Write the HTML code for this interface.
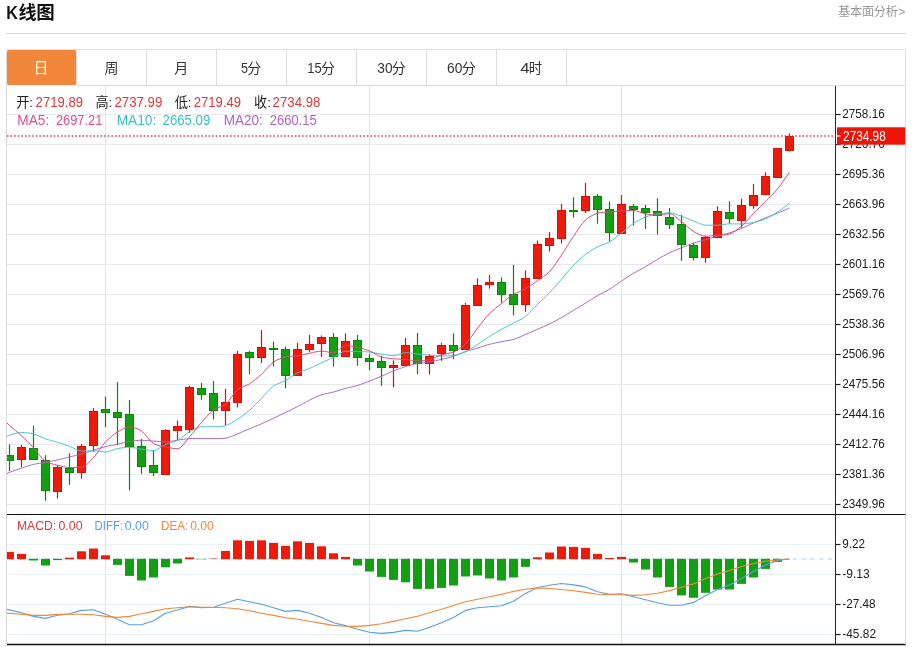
<!DOCTYPE html>
<html lang="zh-CN"><head><meta charset="utf-8"><title>K线图</title><style>
html,body{margin:0;padding:0;background:#fff}
body{width:912px;height:647px;overflow:hidden;position:relative;font-family:"Liberation Sans","Noto Sans CJK SC",sans-serif;color:#222}
.title{position:absolute;left:6px;top:0;margin:0;height:33px;width:300px;font-size:18px;font-weight:bold;line-height:26px;color:#111}
.title .k{position:absolute;left:0.3px;top:0.2px;display:inline-block;transform-origin:0 0;transform:scaleX(0.9);font-size:18.5px}
.cjk{position:absolute;overflow:visible}
.more{position:absolute;left:838.4px;top:4.4px;width:68px;height:16px;font-size:12px;color:#999;line-height:16px}
.hr{position:absolute;left:6px;top:33px;width:900px;height:1px;background:#d6d6d6}
.tabs{position:absolute;left:6px;top:49px;width:898px;height:35px;margin:0;padding:0;list-style:none;border:1px solid #dedede;background:#fff}
.tabs li{float:left;width:69px;height:35px;border-right:1px solid #dedede;text-align:center;font-size:14px;line-height:35px;color:#333}
.tabs li.on{background:#f2873c;color:#fffbe9;border-radius:2px;box-shadow:0 1px 0 #fffaf4}
.tabs li svg{display:block;font-family:"Liberation Sans","Noto Sans CJK SC",sans-serif;text-align:left}
.chart{position:absolute;left:0;top:0}
svg{will-change:transform}
</style></head>
<body>
<h2 class="title"><svg class="cjk" width="60" height="30" viewBox="0 0 60 30" style="left:0;top:0" fill="#111" role="img" aria-label="K线图"><title>K线图</title><text x="0.2" y="18.75" font-size="17.9" font-weight="bold" font-family="'Liberation Sans', sans-serif" textLength="11.6" lengthAdjust="spacingAndGlyphs">K</text><text x="12.6" y="19.1" font-size="18" font-weight="bold" font-family="'Liberation Sans', 'Noto Sans CJK SC', sans-serif">线</text><text x="30.2" y="19.0" font-size="18.5" font-weight="bold" font-family="'Liberation Sans', 'Noto Sans CJK SC', sans-serif">图</text></svg></h2>
<a class="more"><svg class="cjk" width="61" height="16" viewBox="0 0 61 16" fill="#999" role="img" aria-label="基本面分析" style="left:0;top:0"><title>基本面分析</title><text x="0" y="12.2" font-size="12.2" font-weight="normal" font-family="'Liberation Sans', 'Noto Sans CJK SC', sans-serif" textLength="60" lengthAdjust="spacing">基本面分析</text></svg><svg class="cjk" width="8" height="16" viewBox="0 0 8 16" style="left:59.8px;top:0" role="img" aria-label="&gt;"><title>&gt;</title><text x="0.2" y="12.3" font-size="12" fill="#9a9a9a" font-weight="normal" font-family="'Liberation Sans', sans-serif">&gt;</text></svg></a>
<div class="hr"></div>
<ul class="tabs"><li class="on"><svg width="69" height="35" viewBox="7 50 69 35" fill="#fffbe9" role="img" aria-label="日"><title>日</title><text x="33.4" y="73.2" font-size="15">日</text></svg></li><li><svg width="69" height="35" viewBox="77 50 69 35" fill="#333" role="img" aria-label="周"><title>周</title><text x="104.4" y="73.05" font-size="14">周</text></svg></li><li><svg width="69" height="35" viewBox="147 50 69 35" fill="#333" role="img" aria-label="月"><title>月</title><text x="174.34" y="73.07" font-size="14">月</text></svg></li><li><svg width="69" height="35" viewBox="217 50 69 35" fill="#333" role="img" aria-label="5分"><title>5分</title><text x="241.05" y="73.3" font-size="14.3" textLength="7.00" lengthAdjust="spacingAndGlyphs">5</text><text x="247.3" y="73.07" font-size="14">分</text></svg></li><li><svg width="69" height="35" viewBox="287 50 69 35" fill="#333" role="img" aria-label="15分"><title>15分</title><text x="307.30" y="73.3" font-size="14.3" textLength="14.50" lengthAdjust="spacingAndGlyphs">15</text><text x="321.05" y="73.07" font-size="14">分</text></svg></li><li><svg width="69" height="35" viewBox="357 50 69 35" fill="#333" role="img" aria-label="30分"><title>30分</title><text x="377.30" y="73.3" font-size="14.3" textLength="15.25" lengthAdjust="spacingAndGlyphs">30</text><text x="391.8" y="73.07" font-size="14">分</text></svg></li><li><svg width="69" height="35" viewBox="427 50 69 35" fill="#333" role="img" aria-label="60分"><title>60分</title><text x="447.00" y="73.3" font-size="14.3" textLength="15.30" lengthAdjust="spacingAndGlyphs">60</text><text x="461.75" y="73.07" font-size="14">分</text></svg></li><li><svg width="69" height="35" viewBox="497 50 69 35" fill="#333" role="img" aria-label="4时"><title>4时</title><text x="520.30" y="73.3" font-size="14.3" textLength="9.30" lengthAdjust="spacingAndGlyphs">4</text><text x="528.8" y="73.26" font-size="13.3">时</text></svg></li></ul>
<svg class="chart" width="912" height="647" viewBox="0 0 912 647" font-family="'Liberation Sans', 'Noto Sans CJK SC', sans-serif"><defs><clipPath id="clipc"><rect x="7" y="86" width="828.5" height="558"/></clipPath></defs><line x1="105.5" y1="86" x2="105.5" y2="644" stroke="#e2e3e8"/><line x1="369.5" y1="86" x2="369.5" y2="644" stroke="#e2e3e8"/><line x1="621.5" y1="86" x2="621.5" y2="644" stroke="#e2e3e8"/><line x1="7" y1="114.5" x2="835" y2="114.5" stroke="#e8e9ed"/><line x1="7" y1="144.5" x2="835" y2="144.5" stroke="#e8e9ed"/><line x1="7" y1="174.5" x2="835" y2="174.5" stroke="#e8e9ed"/><line x1="7" y1="204.5" x2="835" y2="204.5" stroke="#e8e9ed"/><line x1="7" y1="234.5" x2="835" y2="234.5" stroke="#e8e9ed"/><line x1="7" y1="264.5" x2="835" y2="264.5" stroke="#e8e9ed"/><line x1="7" y1="294.5" x2="835" y2="294.5" stroke="#e8e9ed"/><line x1="7" y1="324.5" x2="835" y2="324.5" stroke="#e8e9ed"/><line x1="7" y1="354.5" x2="835" y2="354.5" stroke="#e8e9ed"/><line x1="7" y1="384.5" x2="835" y2="384.5" stroke="#e8e9ed"/><line x1="7" y1="414.5" x2="835" y2="414.5" stroke="#e8e9ed"/><line x1="7" y1="444.5" x2="835" y2="444.5" stroke="#e8e9ed"/><line x1="7" y1="474.5" x2="835" y2="474.5" stroke="#e8e9ed"/><line x1="7" y1="504.5" x2="835" y2="504.5" stroke="#e8e9ed"/><line x1="7" y1="544.5" x2="835" y2="544.5" stroke="#e7f1f7"/><line x1="7" y1="574.5" x2="835" y2="574.5" stroke="#e7f1f7"/><line x1="7" y1="604.5" x2="835" y2="604.5" stroke="#e7f1f7"/><line x1="7" y1="634.5" x2="835" y2="634.5" stroke="#e7f1f7"/><line x1="6.5" y1="86" x2="6.5" y2="644" stroke="#d6d6d8"/><line x1="905.5" y1="86" x2="905.5" y2="647" stroke="#dcdcdc"/><g clip-path="url(#clipc)"><line x1="7" y1="559" x2="832" y2="559" stroke="#acd5ee" stroke-width="1.2" stroke-dasharray="4.4 4.4" stroke-dashoffset="-2.4"/><rect x="5.0" y="551.9" width="9" height="7.3" fill="#ee1a0a"/><rect x="17.0" y="553.9" width="9" height="5.3" fill="#ee1a0a"/><rect x="29.0" y="558.8" width="9" height="1.7" fill="#12a012"/><rect x="41.0" y="558.8" width="9" height="6.7" fill="#12a012"/><rect x="53.0" y="558.8" width="9" height="1.3" fill="#12a012"/><rect x="65.0" y="557.7" width="9" height="1.5" fill="#ee1a0a"/><rect x="77.0" y="551.3" width="9" height="7.9" fill="#ee1a0a"/><rect x="89.0" y="548.5" width="9" height="10.7" fill="#ee1a0a"/><rect x="101.0" y="555.3" width="9" height="3.9" fill="#ee1a0a"/><rect x="113.0" y="558.8" width="9" height="6.1" fill="#12a012"/><rect x="125.0" y="558.8" width="9" height="17.1" fill="#12a012"/><rect x="137.0" y="558.8" width="9" height="21.7" fill="#12a012"/><rect x="149.0" y="558.8" width="9" height="18.7" fill="#12a012"/><rect x="161.0" y="558.8" width="9" height="8.5" fill="#12a012"/><rect x="173.0" y="558.8" width="9" height="4.7" fill="#12a012"/><rect x="185.0" y="557.4" width="9" height="1.8" fill="#ee1a0a"/><rect x="197.0" y="558.6" width="9" height="1" fill="#12a012" opacity="0.40"/><rect x="209.0" y="558" width="9" height="1" fill="#ee1a0a" opacity="0.40"/><rect x="221.0" y="550.9" width="9" height="8.3" fill="#ee1a0a"/><rect x="233.0" y="540.3" width="9" height="18.9" fill="#ee1a0a"/><rect x="245.0" y="540.9" width="9" height="18.3" fill="#ee1a0a"/><rect x="257.0" y="540.3" width="9" height="18.9" fill="#ee1a0a"/><rect x="269.0" y="542.9" width="9" height="16.3" fill="#ee1a0a"/><rect x="281.0" y="545.9" width="9" height="13.3" fill="#ee1a0a"/><rect x="293.0" y="541.3" width="9" height="17.9" fill="#ee1a0a"/><rect x="305.0" y="542.9" width="9" height="16.3" fill="#ee1a0a"/><rect x="317.0" y="546.3" width="9" height="12.9" fill="#ee1a0a"/><rect x="329.0" y="553.3" width="9" height="5.9" fill="#ee1a0a"/><rect x="341.0" y="556.9" width="9" height="2.3" fill="#ee1a0a"/><rect x="353.0" y="558.8" width="9" height="6.7" fill="#12a012"/><rect x="365.0" y="558.8" width="9" height="12.7" fill="#12a012"/><rect x="377.0" y="558.8" width="9" height="18.1" fill="#12a012"/><rect x="389.0" y="558.8" width="9" height="21.1" fill="#12a012"/><rect x="401.0" y="558.8" width="9" height="23.5" fill="#12a012"/><rect x="413.0" y="558.8" width="9" height="30.1" fill="#12a012"/><rect x="425.0" y="558.8" width="9" height="30.1" fill="#12a012"/><rect x="437.0" y="558.8" width="9" height="29.1" fill="#12a012"/><rect x="449.0" y="558.8" width="9" height="26.7" fill="#12a012"/><rect x="461.0" y="558.8" width="9" height="17.7" fill="#12a012"/><rect x="473.0" y="558.8" width="9" height="16.7" fill="#12a012"/><rect x="485.0" y="558.8" width="9" height="19.7" fill="#12a012"/><rect x="497.0" y="558.8" width="9" height="21.7" fill="#12a012"/><rect x="509.0" y="558.8" width="9" height="18.7" fill="#12a012"/><rect x="521.0" y="558.8" width="9" height="8.1" fill="#12a012"/><rect x="533.0" y="557.3" width="9" height="1.9" fill="#ee1a0a"/><rect x="545.0" y="552.5" width="9" height="6.7" fill="#ee1a0a"/><rect x="557.0" y="546.5" width="9" height="12.7" fill="#ee1a0a"/><rect x="569.0" y="546.9" width="9" height="12.3" fill="#ee1a0a"/><rect x="581.0" y="547.9" width="9" height="11.3" fill="#ee1a0a"/><rect x="593.0" y="553.9" width="9" height="5.3" fill="#ee1a0a"/><rect x="605.0" y="558.0" width="9" height="1.2" fill="#ee1a0a"/><rect x="617.0" y="556.9" width="9" height="2.3" fill="#ee1a0a"/><rect x="629.0" y="558.8" width="9" height="3.7" fill="#12a012"/><rect x="641.0" y="558.8" width="9" height="10.7" fill="#12a012"/><rect x="653.0" y="558.8" width="9" height="18.7" fill="#12a012"/><rect x="665.0" y="558.8" width="9" height="28.1" fill="#12a012"/><rect x="677.0" y="558.8" width="9" height="36.6" fill="#12a012"/><rect x="689.0" y="558.8" width="9" height="39.0" fill="#12a012"/><rect x="701.0" y="558.8" width="9" height="34.0" fill="#12a012"/><rect x="713.0" y="558.8" width="9" height="30.7" fill="#12a012"/><rect x="725.0" y="558.8" width="9" height="30.7" fill="#12a012"/><rect x="737.0" y="558.8" width="9" height="25.1" fill="#12a012"/><rect x="749.0" y="558.8" width="9" height="18.7" fill="#12a012"/><rect x="761.0" y="558.8" width="9" height="10.1" fill="#12a012"/><rect x="773.0" y="558.8" width="9" height="3.1" fill="#12a012"/><line x1="9.5" y1="444.5" x2="9.5" y2="471.2" stroke="#0b860b" stroke-width="1.2"/><rect x="5.5" y="455.5" width="8" height="5.0" fill="#12a012" stroke="#0b860b"/><line x1="21.5" y1="444.9" x2="21.5" y2="467.2" stroke="#d01208" stroke-width="1.2"/><rect x="17.5" y="447.5" width="8" height="12.0" fill="#ee1a0a" stroke="#d01208"/><line x1="33.5" y1="425.7" x2="33.5" y2="459.6" stroke="#0b860b" stroke-width="1.2"/><rect x="29.5" y="448.5" width="8" height="11.0" fill="#12a012" stroke="#0b860b"/><line x1="45.5" y1="455.2" x2="45.5" y2="500.7" stroke="#0b860b" stroke-width="1.2"/><rect x="41.5" y="460.5" width="8" height="30.0" fill="#12a012" stroke="#0b860b"/><line x1="57.5" y1="465.2" x2="57.5" y2="498.4" stroke="#d01208" stroke-width="1.2"/><rect x="53.5" y="467.5" width="8" height="24.0" fill="#ee1a0a" stroke="#d01208"/><line x1="69.5" y1="453.2" x2="69.5" y2="484.8" stroke="#0b860b" stroke-width="1.2"/><rect x="65.5" y="468.5" width="8" height="4.0" fill="#12a012" stroke="#0b860b"/><line x1="81.5" y1="443.9" x2="81.5" y2="478.8" stroke="#d01208" stroke-width="1.2"/><rect x="77.5" y="446.5" width="8" height="26.0" fill="#ee1a0a" stroke="#d01208"/><line x1="93.5" y1="407.9" x2="93.5" y2="451.8" stroke="#d01208" stroke-width="1.2"/><rect x="89.5" y="411.5" width="8" height="34.0" fill="#ee1a0a" stroke="#d01208"/><line x1="105.5" y1="396.6" x2="105.5" y2="427.3" stroke="#0b860b" stroke-width="1.2"/><rect x="101.5" y="409.5" width="8" height="3.0" fill="#12a012" stroke="#0b860b"/><line x1="117.5" y1="382.0" x2="117.5" y2="445.3" stroke="#0b860b" stroke-width="1.2"/><rect x="113.5" y="412.5" width="8" height="5.0" fill="#12a012" stroke="#0b860b"/><line x1="129.5" y1="400.0" x2="129.5" y2="490.4" stroke="#0b860b" stroke-width="1.2"/><rect x="125.5" y="414.5" width="8" height="32.0" fill="#12a012" stroke="#0b860b"/><line x1="141.5" y1="438.9" x2="141.5" y2="473.8" stroke="#0b860b" stroke-width="1.2"/><rect x="137.5" y="446.5" width="8" height="20.0" fill="#12a012" stroke="#0b860b"/><line x1="153.5" y1="449.9" x2="153.5" y2="476.2" stroke="#0b860b" stroke-width="1.2"/><rect x="149.5" y="465.5" width="8" height="7.0" fill="#12a012" stroke="#0b860b"/><line x1="165.5" y1="429.3" x2="165.5" y2="474.8" stroke="#d01208" stroke-width="1.2"/><rect x="161.5" y="430.5" width="8" height="44.0" fill="#ee1a0a" stroke="#d01208"/><line x1="177.5" y1="420.5" x2="177.5" y2="439.9" stroke="#d01208" stroke-width="1.2"/><rect x="173.5" y="426.5" width="8" height="4.0" fill="#ee1a0a" stroke="#d01208"/><line x1="189.5" y1="385.8" x2="189.5" y2="432.8" stroke="#d01208" stroke-width="1.2"/><rect x="185.5" y="387.5" width="8" height="42.0" fill="#ee1a0a" stroke="#d01208"/><line x1="201.5" y1="382.9" x2="201.5" y2="399.8" stroke="#0b860b" stroke-width="1.2"/><rect x="197.5" y="388.5" width="8" height="6.0" fill="#12a012" stroke="#0b860b"/><line x1="213.5" y1="380.9" x2="213.5" y2="419.4" stroke="#0b860b" stroke-width="1.2"/><rect x="209.5" y="393.5" width="8" height="17.0" fill="#12a012" stroke="#0b860b"/><line x1="225.5" y1="388.8" x2="225.5" y2="425.4" stroke="#d01208" stroke-width="1.2"/><rect x="221.5" y="402.5" width="8" height="8.0" fill="#ee1a0a" stroke="#d01208"/><line x1="237.5" y1="350.9" x2="237.5" y2="407.4" stroke="#d01208" stroke-width="1.2"/><rect x="233.5" y="354.5" width="8" height="48.0" fill="#ee1a0a" stroke="#d01208"/><line x1="249.5" y1="350.9" x2="249.5" y2="374.3" stroke="#0b860b" stroke-width="1.2"/><rect x="245.5" y="352.5" width="8" height="5.0" fill="#12a012" stroke="#0b860b"/><line x1="261.5" y1="330.0" x2="261.5" y2="362.9" stroke="#d01208" stroke-width="1.2"/><rect x="257.5" y="347.5" width="8" height="10.0" fill="#ee1a0a" stroke="#d01208"/><line x1="273.5" y1="341.5" x2="273.5" y2="366.5" stroke="#0b860b" stroke-width="1.2"/><rect x="269.5" y="348.5" width="8" height="1.0" fill="#12a012" stroke="#0b860b"/><line x1="285.5" y1="346.5" x2="285.5" y2="388.2" stroke="#0b860b" stroke-width="1.2"/><rect x="281.5" y="349.5" width="8" height="26.0" fill="#12a012" stroke="#0b860b"/><line x1="297.5" y1="342.9" x2="297.5" y2="375.5" stroke="#d01208" stroke-width="1.2"/><rect x="293.5" y="349.5" width="8" height="26.0" fill="#ee1a0a" stroke="#d01208"/><line x1="309.5" y1="335.0" x2="309.5" y2="351.9" stroke="#d01208" stroke-width="1.2"/><rect x="305.5" y="344.5" width="8" height="5.0" fill="#ee1a0a" stroke="#d01208"/><line x1="321.5" y1="335.5" x2="321.5" y2="356.9" stroke="#d01208" stroke-width="1.2"/><rect x="317.5" y="337.5" width="8" height="6.0" fill="#ee1a0a" stroke="#d01208"/><line x1="333.5" y1="333.0" x2="333.5" y2="366.5" stroke="#0b860b" stroke-width="1.2"/><rect x="329.5" y="337.5" width="8" height="19.0" fill="#12a012" stroke="#0b860b"/><line x1="345.5" y1="333.5" x2="345.5" y2="357.2" stroke="#d01208" stroke-width="1.2"/><rect x="341.5" y="341.5" width="8" height="15.0" fill="#ee1a0a" stroke="#d01208"/><line x1="357.5" y1="334.9" x2="357.5" y2="365.8" stroke="#0b860b" stroke-width="1.2"/><rect x="353.5" y="340.5" width="8" height="17.0" fill="#12a012" stroke="#0b860b"/><line x1="369.5" y1="354.2" x2="369.5" y2="370.2" stroke="#0b860b" stroke-width="1.2"/><rect x="365.5" y="358.5" width="8" height="3.0" fill="#12a012" stroke="#0b860b"/><line x1="381.5" y1="355.8" x2="381.5" y2="385.8" stroke="#0b860b" stroke-width="1.2"/><rect x="377.5" y="361.5" width="8" height="6.0" fill="#12a012" stroke="#0b860b"/><line x1="393.5" y1="360.4" x2="393.5" y2="387.2" stroke="#d01208" stroke-width="1.2"/><rect x="389.5" y="365.5" width="8" height="2.0" fill="#ee1a0a" stroke="#d01208"/><line x1="405.5" y1="337.9" x2="405.5" y2="365.8" stroke="#d01208" stroke-width="1.2"/><rect x="401.5" y="345.5" width="8" height="20.0" fill="#ee1a0a" stroke="#d01208"/><line x1="417.5" y1="332.9" x2="417.5" y2="374.4" stroke="#0b860b" stroke-width="1.2"/><rect x="413.5" y="345.5" width="8" height="18.0" fill="#12a012" stroke="#0b860b"/><line x1="429.5" y1="354.2" x2="429.5" y2="374.4" stroke="#d01208" stroke-width="1.2"/><rect x="425.5" y="356.5" width="8" height="7.0" fill="#ee1a0a" stroke="#d01208"/><line x1="441.5" y1="342.8" x2="441.5" y2="360.8" stroke="#d01208" stroke-width="1.2"/><rect x="437.5" y="345.5" width="8" height="8.0" fill="#ee1a0a" stroke="#d01208"/><line x1="453.5" y1="333.3" x2="453.5" y2="359.2" stroke="#0b860b" stroke-width="1.2"/><rect x="449.5" y="345.5" width="8" height="5.0" fill="#12a012" stroke="#0b860b"/><line x1="465.5" y1="302.9" x2="465.5" y2="349.8" stroke="#d01208" stroke-width="1.2"/><rect x="461.5" y="305.5" width="8" height="44.0" fill="#ee1a0a" stroke="#d01208"/><line x1="477.5" y1="278.4" x2="477.5" y2="305.7" stroke="#d01208" stroke-width="1.2"/><rect x="473.5" y="285.5" width="8" height="20.0" fill="#ee1a0a" stroke="#d01208"/><line x1="489.5" y1="275.0" x2="489.5" y2="288.6" stroke="#d01208" stroke-width="1.2"/><rect x="485.5" y="282.5" width="8" height="2.0" fill="#ee1a0a" stroke="#d01208"/><line x1="501.5" y1="277.4" x2="501.5" y2="302.6" stroke="#0b860b" stroke-width="1.2"/><rect x="497.5" y="282.5" width="8" height="12.0" fill="#12a012" stroke="#0b860b"/><line x1="513.5" y1="264.9" x2="513.5" y2="315.4" stroke="#0b860b" stroke-width="1.2"/><rect x="509.5" y="294.5" width="8" height="10.0" fill="#12a012" stroke="#0b860b"/><line x1="525.5" y1="270.4" x2="525.5" y2="311.8" stroke="#d01208" stroke-width="1.2"/><rect x="521.5" y="278.5" width="8" height="26.0" fill="#ee1a0a" stroke="#d01208"/><line x1="537.5" y1="240.5" x2="537.5" y2="278.8" stroke="#d01208" stroke-width="1.2"/><rect x="533.5" y="244.5" width="8" height="34.0" fill="#ee1a0a" stroke="#d01208"/><line x1="549.5" y1="231.9" x2="549.5" y2="251.5" stroke="#d01208" stroke-width="1.2"/><rect x="545.5" y="238.5" width="8" height="7.0" fill="#ee1a0a" stroke="#d01208"/><line x1="561.5" y1="204.0" x2="561.5" y2="243.6" stroke="#d01208" stroke-width="1.2"/><rect x="557.5" y="210.5" width="8" height="28.0" fill="#ee1a0a" stroke="#d01208"/><line x1="573.5" y1="197.3" x2="573.5" y2="217.5" stroke="#0b860b" stroke-width="1.2"/><rect x="569.5" y="210.5" width="8" height="1.0" fill="#12a012" stroke="#0b860b"/><line x1="585.5" y1="183.0" x2="585.5" y2="212.9" stroke="#d01208" stroke-width="1.2"/><rect x="581.5" y="196.5" width="8" height="14.0" fill="#ee1a0a" stroke="#d01208"/><line x1="597.5" y1="193.9" x2="597.5" y2="223.7" stroke="#0b860b" stroke-width="1.2"/><rect x="593.5" y="196.5" width="8" height="13.0" fill="#12a012" stroke="#0b860b"/><line x1="609.5" y1="201.5" x2="609.5" y2="241.4" stroke="#0b860b" stroke-width="1.2"/><rect x="605.5" y="209.5" width="8" height="23.0" fill="#12a012" stroke="#0b860b"/><line x1="621.5" y1="194.9" x2="621.5" y2="233.7" stroke="#d01208" stroke-width="1.2"/><rect x="617.5" y="204.5" width="8" height="29.0" fill="#ee1a0a" stroke="#d01208"/><line x1="633.5" y1="204.3" x2="633.5" y2="225.4" stroke="#0b860b" stroke-width="1.2"/><rect x="629.5" y="206.5" width="8" height="3.0" fill="#12a012" stroke="#0b860b"/><line x1="645.5" y1="204.8" x2="645.5" y2="228.9" stroke="#0b860b" stroke-width="1.2"/><rect x="641.5" y="208.5" width="8" height="4.0" fill="#12a012" stroke="#0b860b"/><line x1="657.5" y1="198.3" x2="657.5" y2="234.4" stroke="#0b860b" stroke-width="1.2"/><rect x="653.5" y="211.5" width="8" height="4.0" fill="#12a012" stroke="#0b860b"/><line x1="669.5" y1="207.9" x2="669.5" y2="228.9" stroke="#0b860b" stroke-width="1.2"/><rect x="665.5" y="217.5" width="8" height="7.0" fill="#12a012" stroke="#0b860b"/><line x1="681.5" y1="214.9" x2="681.5" y2="260.8" stroke="#0b860b" stroke-width="1.2"/><rect x="677.5" y="224.5" width="8" height="20.0" fill="#12a012" stroke="#0b860b"/><line x1="693.5" y1="242.8" x2="693.5" y2="260.4" stroke="#0b860b" stroke-width="1.2"/><rect x="689.5" y="245.5" width="8" height="12.0" fill="#12a012" stroke="#0b860b"/><line x1="705.5" y1="235.8" x2="705.5" y2="262.8" stroke="#d01208" stroke-width="1.2"/><rect x="701.5" y="237.5" width="8" height="20.0" fill="#ee1a0a" stroke="#d01208"/><line x1="717.5" y1="206.2" x2="717.5" y2="237.8" stroke="#d01208" stroke-width="1.2"/><rect x="713.5" y="211.5" width="8" height="26.0" fill="#ee1a0a" stroke="#d01208"/><line x1="729.5" y1="201.2" x2="729.5" y2="223.4" stroke="#0b860b" stroke-width="1.2"/><rect x="725.5" y="212.5" width="8" height="6.0" fill="#12a012" stroke="#0b860b"/><line x1="741.5" y1="198.8" x2="741.5" y2="227.5" stroke="#d01208" stroke-width="1.2"/><rect x="737.5" y="205.5" width="8" height="15.0" fill="#ee1a0a" stroke="#d01208"/><line x1="753.5" y1="183.9" x2="753.5" y2="208.8" stroke="#d01208" stroke-width="1.2"/><rect x="749.5" y="195.5" width="8" height="10.0" fill="#ee1a0a" stroke="#d01208"/><line x1="765.5" y1="172.3" x2="765.5" y2="195.4" stroke="#d01208" stroke-width="1.2"/><rect x="761.5" y="176.5" width="8" height="18.0" fill="#ee1a0a" stroke="#d01208"/><line x1="777.5" y1="147.9" x2="777.5" y2="177.9" stroke="#d01208" stroke-width="1.2"/><rect x="773.5" y="148.5" width="8" height="29.0" fill="#ee1a0a" stroke="#d01208"/><line x1="789.5" y1="133.4" x2="789.5" y2="151.4" stroke="#d01208" stroke-width="1.2"/><rect x="785.5" y="136.5" width="8" height="14.0" fill="#ee1a0a" stroke="#d01208"/><path d="M-2.50 478.64C-2.50 478.64 6.04 473.92 9.50 472.40C12.76 470.97 18.11 469.23 21.50 468.10C24.83 466.99 30.09 465.22 33.50 464.40C36.81 463.60 42.15 462.93 45.50 462.30C48.87 461.67 54.15 460.64 57.50 459.90C60.87 459.15 66.15 457.84 69.50 457.00C72.87 456.16 78.16 454.85 81.50 453.90C84.88 452.94 90.14 451.22 93.50 450.20C96.86 449.18 102.10 447.45 105.50 446.60C108.82 445.77 114.15 444.93 117.50 444.20C120.87 443.47 126.10 441.95 129.50 441.40C132.82 440.86 138.14 440.30 141.50 440.30C144.86 440.30 150.14 440.89 153.50 441.10C156.86 441.31 162.15 441.80 165.50 441.80C168.87 441.80 174.14 440.65 177.50 440.20C180.86 439.75 186.13 438.80 189.50 438.60C192.85 438.40 198.14 438.40 201.50 438.40C204.86 438.40 210.14 438.60 213.50 438.60C216.86 438.60 222.24 438.60 225.50 438.20C228.96 437.78 234.18 435.25 237.50 433.94C240.90 432.61 246.13 430.21 249.50 428.78C252.85 427.36 258.17 425.24 261.50 423.78C264.89 422.30 270.15 419.84 273.50 418.27C276.87 416.69 282.15 414.16 285.50 412.53C288.87 410.89 294.17 408.34 297.50 406.62C300.89 404.88 306.08 401.87 309.50 400.18C312.80 398.55 318.03 395.93 321.50 394.75C324.75 393.65 330.17 392.93 333.50 392.05C336.89 391.16 342.12 389.37 345.50 388.44C348.84 387.52 354.19 386.45 357.50 385.45C360.91 384.42 366.17 382.47 369.50 381.19C372.89 379.90 378.16 377.70 381.50 376.26C384.88 374.81 390.09 372.23 393.50 370.86C396.81 369.52 402.09 367.62 405.50 366.57C408.81 365.55 414.10 364.11 417.50 363.44C420.82 362.79 426.16 362.43 429.50 361.87C432.88 361.29 438.16 360.13 441.50 359.37C444.88 358.59 450.22 357.44 453.50 356.37C456.94 355.24 462.08 352.68 465.50 351.50C468.80 350.36 474.15 349.06 477.50 348.06C480.87 347.04 486.10 345.20 489.50 344.30C492.82 343.42 498.13 342.35 501.50 341.67C504.85 340.98 510.24 340.39 513.50 339.42C516.96 338.39 522.16 335.93 525.50 334.51C528.88 333.08 534.14 330.72 537.50 329.25C540.86 327.76 546.20 325.55 549.50 323.94C552.92 322.29 558.20 319.48 561.50 317.61C564.92 315.67 570.14 312.37 573.50 310.33C576.86 308.31 582.15 305.14 585.50 303.10C588.87 301.04 594.08 297.67 597.50 295.70C600.80 293.79 606.25 291.23 609.50 289.25C612.97 287.13 618.11 283.31 621.50 281.06C624.83 278.84 630.07 275.34 633.50 273.29C636.79 271.32 642.19 268.62 645.50 266.69C648.91 264.70 654.09 261.28 657.50 259.30C660.81 257.38 666.06 254.41 669.50 252.76C672.78 251.18 678.12 249.11 681.50 247.76C684.84 246.42 690.09 244.27 693.50 243.13C696.81 242.03 702.15 240.75 705.50 239.76C708.87 238.76 714.12 237.01 717.50 236.04C720.84 235.08 726.19 233.94 729.50 232.89C732.91 231.81 738.19 229.80 741.50 228.43C744.91 227.02 750.12 224.43 753.50 222.94C756.84 221.48 762.13 219.26 765.50 217.88C768.85 216.51 774.16 214.48 777.50 213.10C780.88 211.71 789.50 208.01 789.50 208.01" fill="none" stroke="#a565bd" stroke-width="0.98" stroke-linejoin="round"/><path d="M-2.50 442.50C-2.50 442.50 5.93 436.79 9.50 435.30C12.65 433.99 18.11 432.50 21.50 432.50C24.83 432.50 30.26 433.05 33.50 433.90C36.98 434.81 42.08 437.60 45.50 438.80C48.80 439.95 54.16 441.26 57.50 442.30C60.88 443.36 66.17 445.09 69.50 446.30C72.89 447.53 78.02 451.00 81.50 451.00C84.74 451.00 90.15 450.80 93.50 450.80C96.87 450.80 102.20 452.00 105.50 452.00C108.92 452.00 114.09 449.27 117.50 448.59C120.81 447.93 126.15 447.20 129.50 447.20C132.87 447.20 138.13 448.68 141.50 449.15C144.85 449.61 150.32 450.53 153.50 450.53C157.04 450.53 162.04 445.96 165.50 444.50C168.76 443.12 174.39 442.03 177.50 440.39C181.11 438.49 185.94 433.88 189.50 431.85C192.66 430.06 198.00 426.75 201.50 426.74C204.72 426.73 210.15 426.74 213.50 426.73C216.87 426.72 222.34 426.64 225.50 425.66C229.06 424.56 234.30 421.34 237.50 419.30C241.02 417.05 246.35 413.10 249.50 410.36C253.07 407.25 258.17 401.79 261.50 398.41C264.89 394.97 269.69 388.85 273.50 386.02C276.41 383.85 282.27 382.33 285.50 380.56C288.99 378.65 293.95 374.64 297.50 372.86C300.67 371.27 306.21 369.89 309.50 368.51C312.93 367.07 318.12 364.33 321.50 362.76C324.84 361.21 330.18 358.97 333.50 357.37C336.90 355.73 341.94 351.21 345.50 351.21C348.66 351.21 354.14 351.49 357.50 351.60C360.86 351.71 366.16 351.68 369.50 352.03C372.88 352.39 378.13 353.61 381.50 354.12C384.85 354.63 390.18 355.69 393.50 355.69C396.90 355.69 402.10 352.58 405.50 352.58C408.82 352.58 414.14 353.66 417.50 354.03C420.86 354.40 426.14 354.95 429.50 355.22C432.86 355.49 438.14 355.97 441.50 355.97C444.86 355.97 450.21 355.93 453.50 355.36C456.93 354.76 462.33 353.22 465.50 351.79C469.05 350.18 474.18 346.61 477.50 344.51C480.90 342.35 486.10 338.74 489.50 336.57C492.82 334.45 498.06 331.13 501.50 329.21C504.78 327.37 510.18 324.92 513.50 323.15C516.90 321.34 522.49 318.79 525.50 316.45C529.21 313.56 534.13 307.80 537.50 304.46C540.85 301.14 546.25 296.08 549.50 292.67C552.97 289.02 558.17 283.03 561.50 279.24C564.89 275.37 569.93 269.00 573.50 265.31C576.65 262.05 581.91 257.16 585.50 254.41C588.63 252.01 593.99 248.71 597.50 246.89C600.71 245.22 606.38 243.74 609.50 241.92C613.10 239.82 618.17 235.47 621.50 232.91C624.89 230.30 629.95 225.79 633.50 223.43C636.67 221.32 641.97 218.30 645.50 216.93C648.69 215.70 654.11 214.72 657.50 214.14C660.83 213.57 666.20 212.84 669.50 212.84C672.92 212.84 678.19 215.15 681.50 216.27C684.91 217.42 690.12 219.71 693.50 220.96C696.84 222.19 702.05 225.03 705.50 225.11C708.77 225.19 714.15 225.19 717.50 225.19C720.87 225.19 726.13 223.86 729.50 223.86C732.85 223.86 738.15 223.95 741.50 223.95C744.87 223.95 750.20 223.16 753.50 222.46C756.92 221.73 762.30 220.22 765.50 218.83C769.02 217.31 774.28 214.16 777.50 212.06C781.00 209.78 789.50 203.17 789.50 203.17" fill="none" stroke="#45c3c9" stroke-width="0.98" stroke-linejoin="round"/><path d="M-2.50 412.54C-2.50 412.54 5.95 422.06 9.50 425.50C12.67 428.58 18.26 432.79 21.50 435.80C24.98 439.03 30.25 444.34 33.50 447.80C36.97 451.50 41.53 458.53 45.50 461.40C48.25 463.39 54.09 464.30 57.50 465.18C60.81 466.03 66.11 467.58 69.50 467.58C72.83 467.58 78.56 467.58 81.50 467.30C85.28 466.94 90.54 460.68 93.50 457.56C97.26 453.59 101.75 445.97 105.50 441.98C108.47 438.81 113.84 434.31 117.50 432.00C120.56 430.07 126.09 426.82 129.50 426.82C132.81 426.82 138.66 429.02 141.50 431.00C145.38 433.69 149.60 440.89 153.50 443.50C156.32 445.38 162.09 446.27 165.50 447.02C168.81 447.75 174.69 448.78 177.50 448.78C181.41 448.78 186.31 440.37 189.50 436.88C193.03 433.01 198.01 426.40 201.50 422.48C204.73 418.86 209.69 412.84 213.50 409.96C216.41 407.75 222.72 406.63 225.50 404.30C229.44 400.99 233.58 393.16 237.50 389.82C240.30 387.44 246.36 385.86 249.50 383.84C253.08 381.53 258.33 377.21 261.50 374.34C265.05 371.12 269.69 364.86 273.50 362.08C276.41 359.96 282.00 357.72 285.50 356.82C288.72 355.99 294.18 356.40 297.50 355.90C300.90 355.38 306.12 353.84 309.50 353.18C312.84 352.52 318.13 351.18 321.50 351.18C324.85 351.18 330.38 352.66 333.50 352.66C337.10 352.66 341.91 345.60 345.50 345.60C348.63 345.60 354.19 346.57 357.50 347.30C360.91 348.05 366.27 349.56 369.50 350.88C372.99 352.30 377.96 355.90 381.50 357.06C384.68 358.10 390.13 358.37 393.50 358.72C396.85 359.07 402.14 359.27 405.50 359.56C408.86 359.85 414.14 360.76 417.50 360.76C420.86 360.76 426.25 360.36 429.50 359.56C432.97 358.71 438.07 355.96 441.50 354.88C444.79 353.84 450.40 353.40 453.50 352.00C457.12 350.36 462.67 346.82 465.50 344.02C469.39 340.17 474.07 332.61 477.50 328.26C480.79 324.09 485.82 317.37 489.50 313.58C492.54 310.45 498.09 306.28 501.50 303.54C504.81 300.88 509.91 296.50 513.50 294.30C516.63 292.39 522.31 290.69 525.50 288.88C529.03 286.88 534.18 283.02 537.50 280.66C540.90 278.23 546.68 274.78 549.50 271.76C553.40 267.58 558.26 259.73 561.50 254.94C564.98 249.81 569.99 241.43 573.50 236.32C576.71 231.63 581.50 223.81 585.50 219.94C588.22 217.31 593.91 214.30 597.50 213.12C600.63 212.09 606.14 212.39 609.50 212.08C612.86 211.77 618.13 211.10 621.50 210.88C624.85 210.66 630.20 210.54 633.50 210.54C636.92 210.54 642.08 213.26 645.50 213.92C648.80 214.56 654.15 215.16 657.50 215.16C660.87 215.16 666.44 213.60 669.50 213.60C673.16 213.60 678.25 219.25 681.50 221.66C684.97 224.23 689.85 229.15 693.50 231.38C696.57 233.25 702.02 236.30 705.50 236.30C708.74 236.30 714.14 235.53 717.50 235.22C720.86 234.91 726.43 235.22 729.50 234.12C733.15 232.81 738.47 228.84 741.50 226.24C745.19 223.08 750.10 217.06 753.50 213.54C756.82 210.09 762.16 204.79 765.50 201.36C768.88 197.89 774.43 192.63 777.50 188.90C781.15 184.47 789.50 172.22 789.50 172.22" fill="none" stroke="#de4675" stroke-width="0.98" stroke-linejoin="round"/><path d="M-2.5 607.5L9.5 609.9L21.5 612.8L33.5 616.4L45.5 618.4L57.5 615.2L69.5 613.8L81.5 610.4L93.5 609.8L105.5 614.2L117.5 619.2L129.5 624.8L141.5 624.8L153.5 620.8L165.5 613.2L177.5 610.0L189.5 606.4L201.5 607.6L213.5 607.2L225.5 603.2L237.5 599.2L249.5 601.8L261.5 604.2L273.5 607.8L285.5 611.4L297.5 610.4L309.5 613.2L321.5 617.4L333.5 622.8L345.5 625.6L357.5 629.2L369.5 632.2L381.5 633.4L393.5 632.4L405.5 630.4L417.5 631.2L429.5 627.2L441.5 622.8L453.5 617.4L465.5 610.4L477.5 607.8L489.5 606.8L501.5 605.8L513.5 601.2L525.5 593.4L537.5 587.5L549.5 585.3L561.5 583.5L573.5 584.9L585.5 586.9L597.5 591.8L609.5 594.2L621.5 593.8L633.5 596.8L645.5 599.8L657.5 602.8L669.5 605.2L681.5 605.2L693.5 602.4L705.5 595.8L717.5 589.5L729.5 584.9L741.5 578.5L753.5 571.5L765.5 564.9L777.5 560.5L789.5 559.0" fill="none" stroke="#5b9fe3" stroke-width="1.1" stroke-linejoin="round"/><path d="M-2.5 612.9L9.5 613.4L21.5 614.2L33.5 615.4L45.5 615.4L57.5 614.4L69.5 614.2L81.5 614.2L93.5 614.8L105.5 616.4L117.5 617.4L129.5 616.4L141.5 613.8L153.5 611.4L165.5 608.8L177.5 607.8L189.5 606.8L201.5 607.4L213.5 607.2L225.5 607.8L237.5 608.8L249.5 610.8L261.5 613.2L273.5 615.4L285.5 617.8L297.5 619.2L309.5 621.2L321.5 623.4L333.5 625.4L345.5 626.2L357.5 626.4L369.5 625.4L381.5 623.8L393.5 621.4L405.5 618.8L417.5 616.2L429.5 612.8L441.5 609.2L453.5 605.4L465.5 601.8L477.5 599.2L489.5 596.8L501.5 594.4L513.5 591.4L525.5 589.2L537.5 587.9L549.5 588.5L561.5 589.5L573.5 590.8L585.5 592.4L597.5 594.2L609.5 594.8L621.5 594.8L633.5 595.4L645.5 594.8L657.5 593.2L669.5 590.6L681.5 587.2L693.5 583.9L705.5 578.5L717.5 573.9L729.5 570.5L741.5 566.5L753.5 563.5L765.5 561.3L777.5 559.9L789.5 559.0" fill="none" stroke="#f0883a" stroke-width="1.1" stroke-linejoin="round"/></g><line x1="7" y1="136" x2="836" y2="136" stroke="#e2343c" stroke-width="1.3" stroke-dasharray="1.5 2.1"/><line x1="835.5" y1="86" x2="835.5" y2="645" stroke="#2a2a2a" stroke-width="1.05"/><line x1="7" y1="514.5" x2="905.4" y2="514.5" stroke="#111" stroke-width="1.2"/><line x1="7" y1="644.5" x2="905.4" y2="644.5" stroke="#111" stroke-width="1.3"/><line x1="836" y1="114.5" x2="840.5" y2="114.5" stroke="#222" stroke-width="1.2"/><line x1="836" y1="144.5" x2="840.5" y2="144.5" stroke="#222" stroke-width="1.2"/><line x1="836" y1="174.5" x2="840.5" y2="174.5" stroke="#222" stroke-width="1.2"/><line x1="836" y1="204.5" x2="840.5" y2="204.5" stroke="#222" stroke-width="1.2"/><line x1="836" y1="234.5" x2="840.5" y2="234.5" stroke="#222" stroke-width="1.2"/><line x1="836" y1="264.5" x2="840.5" y2="264.5" stroke="#222" stroke-width="1.2"/><line x1="836" y1="294.5" x2="840.5" y2="294.5" stroke="#222" stroke-width="1.2"/><line x1="836" y1="324.5" x2="840.5" y2="324.5" stroke="#222" stroke-width="1.2"/><line x1="836" y1="354.5" x2="840.5" y2="354.5" stroke="#222" stroke-width="1.2"/><line x1="836" y1="384.5" x2="840.5" y2="384.5" stroke="#222" stroke-width="1.2"/><line x1="836" y1="414.5" x2="840.5" y2="414.5" stroke="#222" stroke-width="1.2"/><line x1="836" y1="444.5" x2="840.5" y2="444.5" stroke="#222" stroke-width="1.2"/><line x1="836" y1="474.5" x2="840.5" y2="474.5" stroke="#222" stroke-width="1.2"/><line x1="836" y1="504.5" x2="840.5" y2="504.5" stroke="#222" stroke-width="1.2"/><line x1="836" y1="544.5" x2="840.5" y2="544.5" stroke="#222" stroke-width="1.2"/><line x1="836" y1="574.5" x2="840.5" y2="574.5" stroke="#222" stroke-width="1.2"/><line x1="836" y1="604.5" x2="840.5" y2="604.5" stroke="#222" stroke-width="1.2"/><line x1="836" y1="634.5" x2="840.5" y2="634.5" stroke="#222" stroke-width="1.2"/><g font-size="13.5" fill="#1c1c1c"><text x="842.3" y="118.4" textLength="42.4" lengthAdjust="spacingAndGlyphs">2758.16</text><text x="842.3" y="148.4" textLength="42.4" lengthAdjust="spacingAndGlyphs">2726.76</text><text x="842.3" y="178.3" textLength="42.4" lengthAdjust="spacingAndGlyphs">2695.36</text><text x="842.3" y="208.3" textLength="42.4" lengthAdjust="spacingAndGlyphs">2663.96</text><text x="842.3" y="238.3" textLength="42.4" lengthAdjust="spacingAndGlyphs">2632.56</text><text x="842.3" y="268.2" textLength="42.4" lengthAdjust="spacingAndGlyphs">2601.16</text><text x="842.3" y="298.2" textLength="42.4" lengthAdjust="spacingAndGlyphs">2569.76</text><text x="842.3" y="328.2" textLength="42.4" lengthAdjust="spacingAndGlyphs">2538.36</text><text x="842.3" y="358.2" textLength="42.4" lengthAdjust="spacingAndGlyphs">2506.96</text><text x="842.3" y="388.1" textLength="42.4" lengthAdjust="spacingAndGlyphs">2475.56</text><text x="842.3" y="418.1" textLength="42.4" lengthAdjust="spacingAndGlyphs">2444.16</text><text x="842.3" y="448.1" textLength="42.4" lengthAdjust="spacingAndGlyphs">2412.76</text><text x="842.3" y="478.0" textLength="42.4" lengthAdjust="spacingAndGlyphs">2381.36</text><text x="842.3" y="508.0" textLength="42.4" lengthAdjust="spacingAndGlyphs">2349.96</text><text x="842.3" y="548.2" textLength="22.8" lengthAdjust="spacingAndGlyphs">9.22</text><text x="842.3" y="578.2" textLength="27.5" lengthAdjust="spacingAndGlyphs">-9.13</text><text x="842.3" y="608.1" textLength="33.3" lengthAdjust="spacingAndGlyphs">-27.48</text><text x="842.3" y="638.1" textLength="33.7" lengthAdjust="spacingAndGlyphs">-45.82</text></g><rect x="837" y="127.3" width="68.2" height="17.4" fill="#ee1508"/><line x1="836" y1="136" x2="840.5" y2="136" stroke="#fff" stroke-width="1.2"/><text x="843.1" y="140.6" font-size="13.8" fill="#fff" textLength="42.6" lengthAdjust="spacingAndGlyphs">2734.98</text><text x="16.2" y="106.7" font-size="13.2" fill="#222">开:</text><text x="35.6" y="106.8" font-size="14.2" fill="#dc3a3a" textLength="47.5" lengthAdjust="spacingAndGlyphs">2719.89</text><text x="95.4" y="106.7" font-size="13.2" fill="#222">高:</text><text x="114.4" y="106.8" font-size="14.2" fill="#dc3a3a" textLength="47.9" lengthAdjust="spacingAndGlyphs">2737.99</text><text x="174.7" y="106.7" font-size="13.2" fill="#222">低:</text><text x="193.8" y="106.8" font-size="14.2" fill="#dc3a3a" textLength="47.3" lengthAdjust="spacingAndGlyphs">2719.49</text><text x="254.1" y="106.7" font-size="13.2" fill="#222">收:</text><text x="272.6" y="106.8" font-size="14.2" fill="#dc3a3a" textLength="47.8" lengthAdjust="spacingAndGlyphs">2734.98</text><text x="17.3" y="125.0" font-size="14.2" fill="#e0508c" textLength="31.9" lengthAdjust="spacingAndGlyphs">MA5:</text><text x="55.9" y="125.0" font-size="14.2" fill="#e0508c" textLength="46.4" lengthAdjust="spacingAndGlyphs">2697.21</text><text x="116.7" y="125.0" font-size="14.2" fill="#38bfc8" textLength="39.6" lengthAdjust="spacingAndGlyphs">MA10:</text><text x="162.6" y="125.0" font-size="14.2" fill="#38bfc8" textLength="47.7" lengthAdjust="spacingAndGlyphs">2665.09</text><text x="223.8" y="125.0" font-size="14.2" fill="#b062c6" textLength="39.0" lengthAdjust="spacingAndGlyphs">MA20:</text><text x="269.8" y="125.0" font-size="14.2" fill="#b062c6" textLength="46.9" lengthAdjust="spacingAndGlyphs">2660.15</text><text x="17.0" y="530.0" font-size="13.4" fill="#dc3a3a" textLength="39.0" lengthAdjust="spacingAndGlyphs">MACD:</text><text x="58.5" y="530.0" font-size="13.4" fill="#dc3a3a" textLength="24.0" lengthAdjust="spacingAndGlyphs">0.00</text><text x="94.6" y="530.0" font-size="13.4" fill="#5b9fe3" textLength="28.4" lengthAdjust="spacingAndGlyphs">DIFF:</text><text x="124.8" y="530.0" font-size="13.4" fill="#5b9fe3" textLength="24.0" lengthAdjust="spacingAndGlyphs">0.00</text><text x="161.0" y="530.0" font-size="13.4" fill="#f0883a" textLength="27.2" lengthAdjust="spacingAndGlyphs">DEA:</text><text x="190.2" y="530.0" font-size="13.4" fill="#f0883a" textLength="23.6" lengthAdjust="spacingAndGlyphs">0.00</text></svg>
</body></html>
